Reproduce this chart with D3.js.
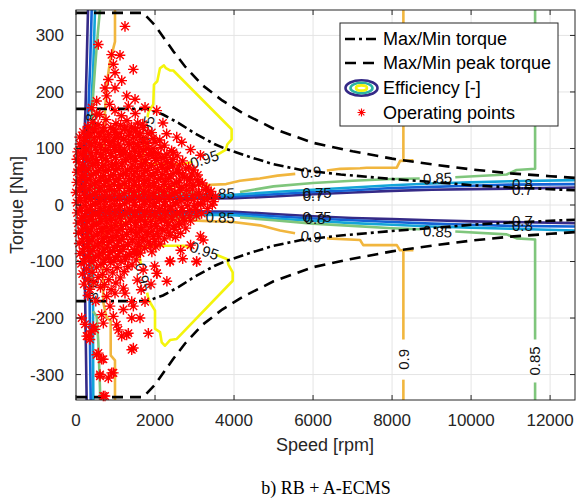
<!DOCTYPE html>
<html>
<head>
<meta charset="utf-8">
<script src="https://cdn.jsdelivr.net/npm/d3@7/dist/d3.min.js"></script>
<style>
  body { margin: 0; background: #fff; }
  svg { display: block; }
  text { font-family: "Liberation Sans", Arial, sans-serif; }
</style>
</head>
<body>
<div id="chart"></div>
<script>
// ---- axes ----
const speedTicks = [0, 2000, 4000, 6000, 8000, 10000, 12000];
const torqueTicks = [-300, -200, -100, 0, 100, 200, 300];

// ---- torque envelopes [speed rpm, torque Nm] (mirrored for Min) ----
const maxTorque = [[0,170],[1800,170],[2200,160],[2600,145],[3000,127],[3500,108],[3800,99],[4400,85],[5000,72],
  [5700,62],[6700,54],[8000,46],[9000,41],[10000,35],[11000,31],[12000,28],[12630,26]];
const peakTorque = [[0,340],[1700,340],[2000,318],[2463,272],[2760,245],[3200,212],[3700,185],[4235,162],[5000,135],
  [6000,110],[7000,95],[8000,82],[9000,72],[10000,63],[11000,56],[12000,51],[12630,48]];

// ---- efficiency contour lines, each level = list of segments ----
const eff070 = [
  [[304,345],[270,250],[240,170],[200,100],[160,50],[140,25],[250,12],[1000,10],[2000,11],[3000,11],[4000,12],[5000,15],[6000,19],[7000,22],[8000,25],[9000,27],[10000,28],[11000,29],[12630,31]],
  [[270,-345],[250,-250],[228,-150],[200,-97],[160,-50],[140,-25],[250,-12],[1000,-10],[2000,-11],[3000,-11],[4000,-12],[5000,-16],[6000,-20],[7000,-23],[8000,-25],[9000,-27],[10000,-29],[11000,-30],[12630,-32]]
];
const eff075 = [
  [[397,345],[360,250],[330,200],[290,130],[253,100],[200,50],[180,28],[300,15],[1000,13],[2000,13],[3000,14],[4000,15],[5000,19],[6000,23],[7000,26],[8000,30],[9000,32],[10000,34],[11000,36],[12630,37]],
  [[372,-345],[355,-250],[337,-100],[260,-50],[200,-28],[300,-15],[1000,-13],[2000,-14],[3000,-14],[4000,-15],[5000,-20],[6000,-24],[7000,-27],[8000,-30],[9000,-33],[10000,-35],[11000,-37],[12630,-38]]
];
const eff080 = [
  [[481,345],[440,250],[405,200],[380,165]],
  [[350,122],[330,100],[270,50],[240,30],[400,18],[1000,16],[2000,16],[3000,17],[4000,18],[5000,23],[6000,27],[7000,31],[8000,35],[9000,38],[10000,40],[11000,42],[12630,44]],
  [[438,-345],[432,-250],[431,-172]],
  [[430,-128],[430,-97],[330,-50],[260,-32],[400,-19],[1000,-17],[2000,-17],[3000,-17],[4000,-18],[5000,-24],[6000,-28],[7000,-32],[8000,-35],[9000,-38],[10000,-40],[11000,-42],[12630,-45]]
];
const eff085 = [
  [[607,345],[557,308],[481,242],[405,166],[380,100],[360,50],[420,30],[1000,22],[2000,21],[3000,22],[3150,22]],
  [[4150,23],[5000,33],[6000,39],[7000,43],[8000,46],[8700,47]],
  [[9600,49],[10900,54],[11150,62],[11620,64],[11620,345]],
  [[608,-345],[608,-326],[565,-243],[523,-197],[430,-188]],
  [[410,-150],[390,-100],[370,-50],[420,-30],[1000,-22],[2000,-21],[3000,-22],[3150,-22]],
  [[4150,-22],[5000,-27],[6000,-33],[7000,-37],[8000,-41],[8700,-43]],
  [[9600,-47],[10900,-52],[11150,-59],[11620,-61],[11620,-238]],
  [[11620,-314],[11620,-345]]
];
const eff090 = [
  [[987,345],[987,289],[860,254],[777,213],[734,166],[700,110],[680,60],[720,40],[1200,32],[2000,31],[2800,34],[3140,35],[3800,37],[4150,43],[4650,47],[5100,52],[5550,55]],
  [[6350,61],[6684,64],[7190,65],[7359,66],[8119,66],[8203,78],[8539,79]],
  [[8286,80],[8286,345]],
  [[987,-345],[987,-275],[878,-266],[878,-205],[777,-199],[734,-187],[691,-172],[680,-110],[680,-60],[720,-40],[1200,-30],[2000,-27],[2800,-27],[3215,-28],[3975,-30],[4658,-36],[5164,-45],[5544,-50]],
  [[6350,-59],[7190,-62],[7270,-71],[8120,-71],[8200,-80],[8540,-80]],
  [[8286,-80],[8286,-238]],
  [[8286,-309],[8286,-345]]
];
const eff095 = [
  [[1829,164],[1812,155]],
  [[1765,108],[1700,90],[1650,78],[1700,74],[2200,72],[2742,73],[2950,76]],
  [[3550,88],[3795,98],[3828,107],[3939,116],[3939,134],[2462,238],[2378,238],[2277,242],[2226,247],[2125,242],[2057,219],[1973,213],[1956,178],[1829,164]],
  [[1830,-165],[1800,-155]],
  [[1640,-105],[1600,-87],[1650,-74],[2200,-72],[2730,-72],[2950,-76]],
  [[3550,-88],[3830,-96],[3855,-105],[3966,-119],[3966,-134],[2549,-237],[2380,-239],[2253,-249],[2170,-243],[2127,-225],[2000,-219],[2000,-187],[1873,-172],[1830,-165]]
];
const effLevels = [
  { level: 0.70, color: '#352a87', lines: eff070 },
  { level: 0.75, color: '#1463d6', lines: eff075 },
  { level: 0.80, color: '#13a4d8', lines: eff080 },
  { level: 0.85, color: '#7fc67c', lines: eff085 },
  { level: 0.90, color: '#f1b63e', lines: eff090 },
  { level: 0.95, color: '#f4f40c', lines: eff095 }
];

// contour labels: text, speed, torque, angle
const effLabels = [
  ['0.95', 1790, 132, -78], ['0.95', 1700, -128, 78], ['0.95', 3250, 81, -18], ['0.95', 3250, -81, 18],
  ['0.85', 3650, 20, -2], ['0.85', 3650, -22, 2], ['0.9', 5950, 58, -5], ['0.9', 5950, -56, 5],
  ['0.85', 9150, 47, -3], ['0.85', 9150, -47, 3], ['0.9', 8286, -273, -90], ['0.85', 11620, -276, -90],
  ['0.8', 365, 144, -90], ['0.8', 430, -150, 90],
  ['0.7', 6000, 16, 0], ['0.75', 6100, 22, 0], ['0.75', 6100, -20, 0], ['0.8', 6050, -25, 0],
  ['0.8', 11300, 38, 0], ['0.7', 11300, 27, 0], ['0.7', 11300, -27, 0], ['0.8', 11300, -37, 0]
];

// ---- operating points [speed, torque] ----
const opCore = [
  [420,146],[760,151],[1010,144],[1290,149],[1560,145],
  [300,139],[560,142],[880,137],[1130,141],[1400,138],[1690,143],
  [180,129],[470,133],[690,130],[980,128],[1240,134],[1510,131],[1820,127],
  [90,120],[350,124],[600,121],[820,125],[1070,119],[1330,123],[1600,122],[1950,118],
  [230,114],[480,111],[740,115],[950,112],[1200,116],[1450,110],[1720,113],[2120,115],
  [120,103],[390,106],[620,102],[860,105],[1100,101],[1350,107],[1580,104],[1830,100],[2240,106],
  [40,94],[270,97],[520,93],[760,96],[1000,98],[1240,92],[1480,95],[1700,97],[1960,93],[2420,96],
  [170,88],[410,85],[650,84],[890,87],[1140,89],[1380,83],[1620,86],[1870,88],[2150,84],[2560,87],
  [60,76],[300,79],[540,75],[780,78],[1020,74],[1270,80],[1500,77],[1760,75],[2030,79],[2300,76],[2700,78],
  [150,67],[420,70],[660,66],[900,69],[1160,71],[1400,65],[1650,68],[1900,70],[2180,66],[2450,69],[2850,67],
  [30,58],[270,61],[510,57],[750,60],[1000,62],[1250,56],[1490,59],[1740,61],[2000,57],[2280,60],[2600,58],[2980,62],
  [130,49],[380,52],[620,48],[870,51],[1120,53],[1360,47],[1610,50],[1870,52],[2140,48],[2400,51],[2750,49],[3080,53],
  [20,40],[250,43],[500,39],[740,42],[990,44],[1240,38],[1480,41],[1730,43],[1980,39],[2260,42],[2540,40],[2870,44],[3200,39],
  [110,31],[360,34],[610,30],[860,33],[1110,35],[1350,29],[1600,32],[1850,34],[2100,30],[2380,33],[2660,31],[2960,35],[3300,30],
  [0,22],[230,25],[480,21],[720,24],[970,26],[1220,20],[1470,23],[1720,25],[1970,21],[2230,24],[2500,22],[2800,26],[3120,21],[3420,24],
  [100,13],[350,16],[600,12],[850,15],[1100,17],[1340,11],[1590,14],[1840,16],[2100,12],[2360,15],[2640,13],[2950,17],[3250,12],[3530,15],
  [20,4],[240,7],[490,3],[730,6],[980,8],[1230,2],[1480,5],[1730,7],[1990,3],[2250,6],[2520,4],[2820,8],[3150,3],[3480,6],
  [120,-5],[370,-2],[620,-6],[860,-3],[1110,-1],[1360,-7],[1610,-4],[1860,-2],[2120,-6],[2390,-3],[2680,-5],[3000,-1],[3330,-6],
  [30,-14],[260,-11],[500,-15],[750,-12],[990,-10],[1240,-16],[1490,-13],[1740,-11],[2000,-15],[2260,-12],[2550,-14],[2870,-10],[3180,-15],
  [140,-23],[390,-20],[630,-24],[880,-21],[1120,-19],[1370,-25],[1620,-22],[1880,-20],[2140,-24],[2420,-21],[2720,-23],[3050,-19],
  [50,-32],[280,-29],[520,-33],[770,-30],[1010,-28],[1260,-34],[1510,-31],[1760,-29],[2020,-33],[2300,-30],[2600,-32],[2900,-28],
  [170,-41],[410,-38],[660,-42],[900,-39],[1150,-37],[1400,-43],[1650,-40],[1910,-38],[2180,-42],[2470,-39],[2780,-41],
  [60,-50],[300,-47],[550,-51],[790,-48],[1040,-46],[1290,-52],[1540,-49],[1800,-47],[2060,-51],[2350,-48],[2650,-50],[3150,-55],
  [190,-59],[430,-56],[680,-60],[930,-57],[1180,-55],[1430,-61],[1690,-58],[1960,-56],[2240,-60],[2520,-57],[3220,-62],
  [80,-68],[320,-65],[570,-69],[820,-66],[1070,-64],[1320,-70],[1580,-67],[1850,-65],[2130,-69],[2900,-71],
  [210,-77],[460,-74],[710,-78],[960,-75],[1210,-73],[1470,-79],[1740,-76],[2020,-74],[2650,-80],
  [100,-86],[350,-83],[600,-87],[850,-84],[1100,-82],[1360,-88],[1630,-85],[1920,-83],
  [240,-95],[490,-92],[740,-96],[990,-93],[1250,-91],[1520,-97],[2380,-99],[3050,-100],
  [130,-104],[380,-101],[630,-105],[880,-102],[1140,-100],[1420,-106],[1990,-108],
  [270,-113],[520,-110],[780,-114],[1040,-111],[1310,-109],[1700,-115],[2050,-121],
  [160,-122],[410,-119],[670,-123],[930,-120],[1220,-118],
  [300,-131],[560,-128],[830,-132],[1120,-129],[1550,-133],
  [200,-140],[450,-137],[720,-141],[1010,-138],
  [350,-149],[620,-146],[890,-150],[1200,-147]
];
const opCoreDense = [
  [430,135],[700,137],[960,134],[1230,136],[1500,135],
  [320,126],[580,128],[830,125],[1090,127],[1360,129],[1620,126],
  [220,117],[470,119],[720,116],[970,120],[1210,117],[1460,119],[1700,116],
  [100,108],[350,110],[600,107],[840,111],[1080,108],[1320,110],[1560,107],[1800,109],[2000,111],
  [250,99],[500,101],[740,98],[980,102],[1220,99],[1460,101],[1700,98],[1950,100],[2150,102],
  [130,90],[380,92],[630,89],[870,91],[1120,93],[1360,90],[1600,92],[1840,89],[2080,91],[2300,90],
  [20,81],[260,83],[500,80],[750,82],[1000,84],[1250,81],[1500,83],[1750,80],[2000,82],[2250,84],[2450,81],
  [180,71],[430,73],[680,70],[920,72],[1170,74],[1420,71],[1660,73],[1910,70],[2160,72],[2400,74],[2620,71],
  [70,62],[320,64],[570,61],[820,63],[1060,65],[1310,62],[1560,64],[1810,61],[2060,63],[2320,65],[2560,62],[2780,64],
  [200,53],[450,55],[700,52],[950,54],[1200,56],[1450,53],[1700,55],[1950,52],[2200,54],[2460,56],[2700,53],[2920,55],
  [80,44],[330,46],[580,43],[830,45],[1080,47],[1330,44],[1580,46],[1830,43],[2080,45],[2340,47],[2620,44],[2900,46],[3080,45],
  [220,35],[470,37],[720,34],[970,36],[1220,38],[1470,35],[1720,37],[1970,34],[2230,36],[2500,38],[2800,35],[3100,37],
  [90,26],[340,28],[590,25],[840,27],[1090,29],[1340,26],[1590,28],[1840,25],[2090,27],[2360,29],[2640,26],[2950,28],[3280,27],
  [220,17],[470,19],[720,16],[970,18],[1220,20],[1470,17],[1720,19],[1970,16],[2230,18],[2500,20],[2790,17],[3100,19],[3400,18],
  [110,8],[360,10],[610,7],[860,9],[1110,11],[1360,8],[1610,10],[1860,7],[2110,9],[2380,11],[2660,8],[2980,10],[3320,9],
  [230,-1],[480,1],[730,-2],[980,0],[1230,2],[1480,-1],[1730,1],[1980,-2],[2240,0],[2520,2],[2830,-1],[3160,1],[3450,0],
  [100,-10],[350,-8],[600,-11],[850,-9],[1100,-7],[1350,-10],[1600,-8],[1850,-11],[2110,-9],[2400,-7],[2700,-10],[3020,-8],
  [240,-19],[490,-17],[740,-20],[990,-18],[1240,-16],[1490,-19],[1740,-17],[2000,-20],[2270,-18],[2560,-16],[2880,-19],
  [130,-28],[380,-26],[630,-29],[880,-27],[1130,-25],[1380,-28],[1630,-26],[1890,-29],[2160,-27],[2440,-25],[2750,-28],
  [260,-37],[510,-35],[760,-38],[1010,-36],[1260,-34],[1510,-37],[1770,-35],[2030,-38],[2320,-36],[2620,-34],
  [140,-46],[390,-44],[640,-47],[890,-45],[1140,-43],[1390,-46],[1650,-44],[1920,-47],[2200,-45],[2500,-43],
  [280,-55],[530,-53],[780,-56],[1030,-54],[1280,-52],[1540,-55],[1810,-53],[2090,-56],[2380,-54],
  [160,-64],[410,-62],[660,-65],[910,-63],[1160,-61],[1420,-64],[1700,-62],[1990,-65],
  [300,-73],[550,-71],[800,-74],[1050,-72],[1310,-70],[1590,-73],[1880,-71],
  [180,-82],[430,-80],[680,-83],[930,-81],[1190,-79],[1480,-82],
  [320,-91],[570,-89],[820,-92],[1070,-90],[1340,-88],
  [200,-100],[450,-98],[700,-101],[960,-99],[1250,-97]
];
const opOutliers = [
  [1240,316],[565,284],[900,266],[1114,265],[945,249],[987,234],[1450,240],[818,222],[987,207],[734,207],
  [1157,220],[1283,193],[1494,187],[523,184],[777,193],[987,167],[1747,173],[2043,167],[1325,175],[523,161],
  [600,160],[1150,158],[1500,162],[850,178],[400,172],[2295,126],[2676,111],[2464,93],[1916,128],[1705,137],
  [2200,145],[2550,120],[2900,98],[3150,88],[101,61],
  [144,-200],[734,-338],[945,-297],[607,-303],[818,-306],[270,-232],[354,-238],[691,-273],[523,-265],[1030,-212],
  [1072,-221],[1157,-232],[1325,-227],[1410,-171],[1452,-179],[1410,-200],[1620,-200],[1452,-253],[1831,-227],[987,-156],
  [1240,-156],[777,-162],[861,-179],[945,-197],[650,-194],[692,-209],[438,-215],[228,-211],[312,-232],[397,-223],
  [481,-220],[565,-262],[650,-273],[608,-300],[903,-297],[692,-338],[1410,-256],[1283,-230],[3055,-100],[2380,-100],
  [2043,-121],[1536,-86],[1747,-171],[2700,-95],[2300,-135],[1900,-140],[1650,-150],[1200,-185],[500,-170],[300,-160]
];

const legendLabels = ['Max/Min torque', 'Max/Min peak torque', 'Efficiency [-]', 'Operating points'];

// ---- chart ----
const W = 576, H = 500;
const plot = { left: 76, right: 575, top: 10, bottom: 400 };

const x = d3.scaleLinear().domain([0, 12630]).range([plot.left, plot.right]);
const y = d3.scaleLinear().domain([-345, 345]).range([plot.bottom, plot.top]);

const svg = d3.select('#chart').append('svg').attr('width', W).attr('height', H);

svg.append('defs').append('clipPath').attr('id', 'clip')
  .append('rect').attr('x', plot.left).attr('y', plot.top)
  .attr('width', plot.right - plot.left).attr('height', plot.bottom - plot.top);

// Grid
svg.append('g').selectAll('line').data(speedTicks).join('line')
  .attr('x1', d => x(d)).attr('x2', d => x(d)).attr('y1', plot.top).attr('y2', plot.bottom)
  .attr('stroke', '#e4e4e4').attr('stroke-width', 1);
svg.append('g').selectAll('line').data(torqueTicks).join('line')
  .attr('y1', d => y(d)).attr('y2', d => y(d)).attr('x1', plot.left).attr('x2', plot.right)
  .attr('stroke', '#e4e4e4').attr('stroke-width', 1);

const line = d3.line().x(d => x(d[0])).y(d => y(d[1]));
const content = svg.append('g').attr('clip-path', 'url(#clip)');

// Efficiency contours
effLevels.forEach(lv => {
  content.append('g').selectAll('path').data(lv.lines).join('path')
    .attr('d', line).attr('fill', 'none').attr('stroke', lv.color)
    .attr('stroke-width', 2.6).attr('stroke-linejoin', 'round');
});

// Contour labels
content.append('g').selectAll('text').data(effLabels).join('text')
  .attr('transform', d => `translate(${x(d[1])},${y(d[2])}) rotate(${d[3]})`)
  .attr('text-anchor', 'middle').attr('dy', '0.35em')
  .style('font-size', '15px').attr('fill', '#111')
  .text(d => d[0]);

// Operating points (asterisks)
const r = 5.3, q = 3.8;
const star = `M${-r},0L${r},0M0,${-r}L0,${r}M${-q},${-q}L${q},${q}M${-q},${q}L${q},${-q}`;
svg.append('g').selectAll('path').data(opCore.concat(opCoreDense, opOutliers)).join('path')
  .attr('transform', d => `translate(${x(d[0])},${y(d[1])})`)
  .attr('d', star).attr('fill', 'none').attr('stroke', '#ff0000').attr('stroke-width', 1.4);

// Torque envelopes
const neg = arr => arr.map(d => [d[0], -d[1]]);
[maxTorque, neg(maxTorque)].forEach(arr => {
  content.append('path').attr('d', line(arr)).attr('fill', 'none')
    .attr('stroke', '#000').attr('stroke-width', 2.6).attr('stroke-dasharray', '10,4,3,4');
});
[peakTorque, neg(peakTorque)].forEach(arr => {
  content.append('path').attr('d', line(arr)).attr('fill', 'none')
    .attr('stroke', '#000').attr('stroke-width', 2.6).attr('stroke-dasharray', '11,7');
});

// Box
svg.append('rect').attr('x', plot.left).attr('y', plot.top)
  .attr('width', plot.right - plot.left).attr('height', plot.bottom - plot.top)
  .attr('fill', 'none').attr('stroke', '#262626').attr('stroke-width', 1);

// Ticks (inward, all four sides)
const tk = 5;
const ticks = svg.append('g').attr('stroke', '#262626').attr('stroke-width', 1);
speedTicks.forEach(v => {
  ticks.append('line').attr('x1', x(v)).attr('x2', x(v)).attr('y1', plot.bottom).attr('y2', plot.bottom - tk);
  ticks.append('line').attr('x1', x(v)).attr('x2', x(v)).attr('y1', plot.top).attr('y2', plot.top + tk);
});
torqueTicks.forEach(v => {
  ticks.append('line').attr('y1', y(v)).attr('y2', y(v)).attr('x1', plot.left).attr('x2', plot.left + tk);
  ticks.append('line').attr('y1', y(v)).attr('y2', y(v)).attr('x1', plot.right).attr('x2', plot.right - tk);
});

// Tick labels
svg.append('g').selectAll('text').data(speedTicks).join('text')
  .attr('x', d => x(d)).attr('y', plot.bottom + 20).attr('dy', '0.35em')
  .attr('text-anchor', 'middle').style('font-size', '17px').attr('fill', '#262626')
  .text(d => d);
svg.append('g').selectAll('text').data(torqueTicks).join('text')
  .attr('x', plot.left - 12).attr('y', d => y(d)).attr('dy', '0.35em')
  .attr('text-anchor', 'end').style('font-size', '17px').attr('fill', '#262626')
  .text(d => d);

// Axis labels
svg.append('text').attr('x', 325).attr('y', 445).attr('dy', '0.35em')
  .attr('text-anchor', 'middle').style('font-size', '18px').attr('fill', '#262626')
  .text('Speed [rpm]');
svg.append('text').attr('transform', 'translate(17,205) rotate(-90)').attr('dy', '0.35em')
  .attr('text-anchor', 'middle').style('font-size', '18px').attr('fill', '#262626')
  .text('Torque [Nm]');

// Caption
svg.append('text').attr('x', 326).attr('y', 488).attr('dy', '0.35em')
  .attr('text-anchor', 'middle').style('font-size', '18px')
  .style('font-family', '"Liberation Serif", "Times New Roman", serif').attr('fill', '#000')
  .text('b) RB + A-ECMS');

// Legend
const lg = svg.append('g');
lg.append('rect').attr('x', 340).attr('y', 23).attr('width', 218).attr('height', 103)
  .attr('fill', '#fff').attr('stroke', '#262626').attr('stroke-width', 1);
const rowY = [39, 63, 88, 112.5];
lg.append('line').attr('x1', 345).attr('x2', 378).attr('y1', rowY[0]).attr('y2', rowY[0])
  .attr('stroke', '#000').attr('stroke-width', 2.6).attr('stroke-dasharray', '10,4,3,4');
lg.append('line').attr('x1', 345).attr('x2', 378).attr('y1', rowY[1]).attr('y2', rowY[1])
  .attr('stroke', '#000').attr('stroke-width', 2.6).attr('stroke-dasharray', '11,7');
[[16, 7.8, '#352a87'], [11, 5.2, '#2ab3a3'], [5.5, 2.6, '#f4f40c']].forEach(e => {
  lg.append('ellipse').attr('cx', 361.5).attr('cy', rowY[2]).attr('rx', e[0]).attr('ry', e[1])
    .attr('fill', 'none').attr('stroke', e[2]).attr('stroke-width', 2.6);
});
lg.append('path').attr('transform', `translate(361.5,${rowY[3]}) scale(0.75)`).attr('d', star)
  .attr('fill', 'none').attr('stroke', '#ff0000').attr('stroke-width', 1.5);
lg.selectAll('text.lbl').data(legendLabels).join('text').attr('class', 'lbl')
  .attr('x', 383).attr('y', (d, i) => rowY[i]).attr('dy', '0.35em')
  .style('font-size', '18px').attr('fill', '#000')
  .text(d => d);
</script>
</body>
</html>
